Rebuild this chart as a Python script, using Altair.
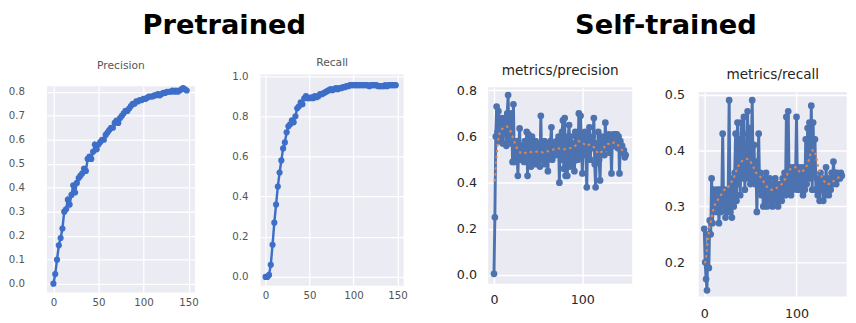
import altair as alt
import pandas as pd

# ---------------- data ----------------
pre_epochs = list(range(0, 150, 2))
pre_precision = [
    0.00, 0.04, 0.10, 0.16, 0.19, 0.23, 0.30, 0.31, 0.35, 0.33,
    0.37, 0.41, 0.38, 0.42, 0.44, 0.45, 0.46, 0.48, 0.47, 0.52,
    0.53, 0.52, 0.55, 0.58, 0.56, 0.58, 0.59, 0.60, 0.60, 0.62,
    0.63, 0.64, 0.65, 0.65, 0.67, 0.68, 0.67, 0.69, 0.70, 0.71,
    0.72, 0.72, 0.73, 0.74, 0.75, 0.75, 0.76, 0.76, 0.765, 0.765,
    0.77, 0.77, 0.775, 0.78, 0.78, 0.78, 0.785, 0.785, 0.79, 0.785,
    0.79, 0.795, 0.795, 0.80, 0.80, 0.80, 0.805, 0.80, 0.805, 0.80,
    0.805, 0.81, 0.815, 0.81, 0.805,
]
pre_recall = [
    0.00, 0.00, 0.01, 0.06, 0.16, 0.27, 0.36, 0.45, 0.52, 0.58,
    0.64, 0.67, 0.72, 0.75, 0.76, 0.78, 0.77, 0.80, 0.84, 0.85,
    0.87, 0.86, 0.89, 0.90, 0.89, 0.89, 0.895, 0.89, 0.90, 0.895,
    0.90, 0.91, 0.91, 0.915, 0.92, 0.925, 0.93, 0.935, 0.93, 0.935,
    0.94, 0.935, 0.94, 0.94, 0.945, 0.945, 0.95, 0.95, 0.955, 0.955,
    0.955, 0.955, 0.955, 0.955, 0.955, 0.955, 0.955, 0.955, 0.955, 0.95,
    0.955, 0.955, 0.955, 0.955, 0.95, 0.95, 0.95, 0.95, 0.955, 0.95,
    0.955, 0.955, 0.955, 0.955, 0.955,
]

self_epochs = list(range(150))
self_precision = [
    0.005, 0.25, 0.60, 0.73, 0.62, 0.71, 0.58, 0.66, 0.60, 0.68,
    0.57, 0.67, 0.62, 0.68, 0.56, 0.70, 0.78, 0.57, 0.68, 0.62,
    0.70, 0.49, 0.74, 0.49, 0.56, 0.52, 0.58, 0.43, 0.55, 0.635,
    0.50, 0.56, 0.52, 0.55, 0.49, 0.58, 0.52, 0.62, 0.43, 0.61,
    0.50, 0.58, 0.47, 0.60, 0.51, 0.56, 0.49, 0.58, 0.48, 0.55,
    0.50, 0.57, 0.47, 0.69, 0.50, 0.57, 0.52, 0.58, 0.48, 0.55,
    0.50, 0.45, 0.57, 0.52, 0.58, 0.64, 0.50, 0.57, 0.53, 0.56,
    0.52, 0.58, 0.54, 0.60, 0.40, 0.59, 0.50, 0.62, 0.67, 0.46,
    0.68, 0.43, 0.58, 0.43, 0.60, 0.65, 0.47, 0.60, 0.52, 0.57,
    0.49, 0.45, 0.62, 0.55, 0.58, 0.50, 0.70, 0.52, 0.69, 0.55,
    0.44, 0.60, 0.56, 0.62, 0.52, 0.38, 0.60, 0.55, 0.64, 0.50,
    0.58, 0.55, 0.60, 0.68, 0.48, 0.38, 0.57, 0.52, 0.62, 0.50,
    0.41, 0.56, 0.60, 0.55, 0.59, 0.52, 0.66, 0.55, 0.60, 0.57,
    0.61, 0.53, 0.58, 0.44, 0.60, 0.61, 0.56, 0.61, 0.58, 0.61,
    0.55, 0.60, 0.44, 0.58, 0.55, 0.56, 0.53, 0.54, 0.51, 0.52,
]
self_recall = [
    0.26, 0.20, 0.17, 0.15, 0.25, 0.19, 0.275, 0.25, 0.35, 0.27,
    0.33, 0.30, 0.32, 0.29, 0.33, 0.31, 0.27, 0.33, 0.29, 0.32,
    0.43, 0.30, 0.33, 0.28, 0.32, 0.29, 0.33, 0.49, 0.29, 0.33,
    0.28, 0.35, 0.30, 0.36, 0.43, 0.31, 0.45, 0.34, 0.42, 0.32,
    0.45, 0.35, 0.43, 0.46, 0.33, 0.41, 0.35, 0.47, 0.36, 0.44,
    0.34, 0.40, 0.49, 0.35, 0.41, 0.34, 0.38, 0.29, 0.36, 0.43,
    0.33, 0.36, 0.32, 0.35, 0.30, 0.34, 0.31, 0.36, 0.30, 0.34,
    0.32, 0.35, 0.31, 0.33, 0.30, 0.34, 0.32, 0.35, 0.31, 0.34,
    0.30, 0.33, 0.32, 0.34, 0.31, 0.35, 0.33, 0.36, 0.32, 0.46,
    0.33, 0.47, 0.34, 0.37, 0.32, 0.36, 0.33, 0.37, 0.34, 0.36,
    0.46, 0.33, 0.37, 0.34, 0.36, 0.33, 0.37, 0.32, 0.35, 0.33,
    0.42, 0.34, 0.44, 0.36, 0.45, 0.35, 0.48, 0.33, 0.45, 0.36,
    0.42, 0.33, 0.35, 0.32, 0.34, 0.31, 0.36, 0.33, 0.35, 0.31,
    0.34, 0.32, 0.37, 0.33, 0.35, 0.32, 0.34, 0.33, 0.36, 0.34,
    0.38, 0.35, 0.36, 0.34, 0.36, 0.35, 0.355, 0.35, 0.36, 0.355,
]

smooth_epochs = [1, 2, 3, 4, 5, 6, 8, 10, 12, 14, 16, 18, 20, 22, 24, 26, 28, 30,
                 33, 36, 40, 44, 48, 52, 56, 60, 64, 68, 72, 76, 80, 84, 88, 92,
                 96, 100, 104, 108, 112, 116, 120, 124, 128, 132, 136, 140, 144, 148]
self_precision_smooth = [
    0.41, 0.47, 0.52, 0.56, 0.59, 0.61, 0.63, 0.635, 0.64, 0.645, 0.64, 0.63,
    0.61, 0.59, 0.565, 0.55, 0.54, 0.53, 0.525, 0.53, 0.535, 0.53, 0.535, 0.535,
    0.53, 0.535, 0.54, 0.545, 0.55, 0.545, 0.545, 0.55, 0.55, 0.56, 0.58, 0.575,
    0.56, 0.565, 0.56, 0.535, 0.525, 0.55, 0.57, 0.565, 0.575, 0.565, 0.545, 0.53,
]
self_recall_smooth = [
    0.20, 0.21, 0.225, 0.24, 0.255, 0.265, 0.28, 0.295, 0.305, 0.31, 0.315, 0.32,
    0.325, 0.33, 0.33, 0.335, 0.34, 0.345, 0.355, 0.37, 0.38, 0.385, 0.385, 0.375,
    0.36, 0.355, 0.345, 0.335, 0.33, 0.33, 0.335, 0.34, 0.35, 0.365, 0.37, 0.37,
    0.36, 0.365, 0.375, 0.40, 0.40, 0.365, 0.35, 0.34, 0.34, 0.345, 0.35, 0.355,
]

pre_x_ticks = [0, 50, 100, 150]
pre_prec_y_ticks = [0.0, 0.1, 0.2, 0.3, 0.4, 0.5, 0.6, 0.7, 0.8]
pre_rec_y_ticks = [0.0, 0.2, 0.4, 0.6, 0.8, 1.0]
self_x_ticks = [0, 100]
self_prec_y_ticks = [0.0, 0.2, 0.4, 0.6, 0.8]
self_rec_y_ticks = [0.2, 0.3, 0.4, 0.5]


# ---------------- helpers ----------------
def frame(xs, ys):
    return pd.DataFrame({"epoch": xs, "value": ys})


def panel(df, x_dom, y_dom, x_ticks, y_ticks, w, h, title, title_size, title_color,
          title_offset, label_size, label_color, xpad, ypad, extent, bg, color,
          pt_size, stroke_w, grid_w, smooth=None):
    x = alt.X("epoch:Q",
              scale=alt.Scale(domain=x_dom, nice=False, zero=False),
              axis=alt.Axis(values=x_ticks, title=None, grid=True, gridColor="white",
                            gridWidth=grid_w, domain=False, ticks=False, tickSize=0,
                            labelPadding=xpad, labelFontSize=label_size,
                            labelColor=label_color, labelFont="DejaVu Sans",
                            format="d"))
    y = alt.Y("value:Q",
              scale=alt.Scale(domain=y_dom, nice=False, zero=False),
              axis=alt.Axis(values=y_ticks, title=None, grid=True, gridColor="white",
                            gridWidth=grid_w, domain=False, ticks=False, tickSize=0,
                            labelPadding=ypad, labelFontSize=label_size,
                            labelColor=label_color, labelFont="DejaVu Sans",
                            format=".1f", minExtent=extent, maxExtent=extent))
    base = alt.Chart(df).encode(x=x, y=y)
    layers = [
        base.mark_line(color=color, strokeWidth=stroke_w),
        base.mark_circle(color=color, size=pt_size, opacity=1),
    ]
    if smooth is not None:
        layers.append(
            alt.Chart(smooth).mark_line(color="#DD8452", strokeWidth=2.4,
                                        strokeDash=[0.5, 5.5], strokeCap="round")
            .encode(x=x, y=y)
        )
    return alt.layer(*layers).properties(
        width=w, height=h,
        title=alt.TitleParams(title, fontSize=title_size, color=title_color,
                              font="DejaVu Sans", fontWeight="normal",
                              offset=title_offset),
        view=alt.ViewBackground(fill=bg, stroke=None),
    )


def spacer(w, h):
    # invisible block that pushes the panel below it down
    return alt.Chart(pd.DataFrame({"v": [0]})).mark_rule(
        strokeOpacity=0, strokeWidth=0
    ).encode(x=alt.value(1), x2=alt.value(2), y=alt.value(1), y2=alt.value(1)
    ).properties(width=w, height=h)


def column(top_gap, p, w):
    return alt.vconcat(spacer(w, top_gap), p, spacing=0)


PRE_BLUE = "#3d6ec8"
SELF_BLUE = "#4c72b0"
PRE_BG = "#ebebf3"
SELF_BG = "#eaeaf2"

p1 = panel(frame(pre_epochs, pre_precision), [-7.2, 157], [-0.037, 0.823],
           pre_x_ticks, pre_prec_y_ticks, 152, 212, "Precision", 11, "#555555", 13,
           10.5, "#555555", 5, 23, 37, PRE_BG, PRE_BLUE, 40, 2.5, 1.3)
p2 = panel(frame(pre_epochs, pre_recall), [-5.6, 157], [-0.044, 1.008],
           pre_x_ticks, pre_rec_y_ticks, 147, 217, "Recall", 11, "#555555", 3,
           10.5, "#555555", 5, 13, 36, PRE_BG, PRE_BLUE, 40, 2.5, 1.3)
p3 = panel(frame(self_epochs, self_precision), [-6.6, 156.4], [-0.038, 0.814],
           self_x_ticks, self_prec_y_ticks, 148, 202, "metrics/precision", 14, "#262626",
           6.5, 13, "#262626", 10, 12, 40, SELF_BG, SELF_BLUE, 48, 3, 1.5,
           smooth=frame(smooth_epochs, self_precision_smooth))
p4 = panel(frame(self_epochs, self_recall), [-5.9, 154.4], [0.139, 0.5045],
           self_x_ticks, self_rec_y_ticks, 152, 210, "metrics/recall", 14, "#262626",
           7, 13, "#262626", 12, 14.7, 40, SELF_BG, SELF_BLUE, 48, 3, 1.5,
           smooth=frame(smooth_epochs, self_recall_smooth))

group_a = alt.hconcat(
    column(6, p1, 152), column(4, p2, 147), spacing=27.5,
    title=alt.TitleParams("Pretrained", font="DejaVu Sans", fontSize=28,
                          fontWeight="bold", color="#000000", anchor="middle",
                          offset=14, dx=17),
)
group_b = alt.hconcat(
    column(11, p3, 148), column(15, p4, 152), spacing=28.4,
    title=alt.TitleParams("Self-trained", font="DejaVu Sans", fontSize=28,
                          fontWeight="bold", color="#000000", anchor="middle",
                          offset=14, dx=18),
)

chart = alt.hconcat(group_a, group_b, spacing=42.3).properties(
    padding=0, background="white"
).configure_view(stroke=None)

chart.save("out.html", embed_options={"renderer": "svg", "actions": False})
